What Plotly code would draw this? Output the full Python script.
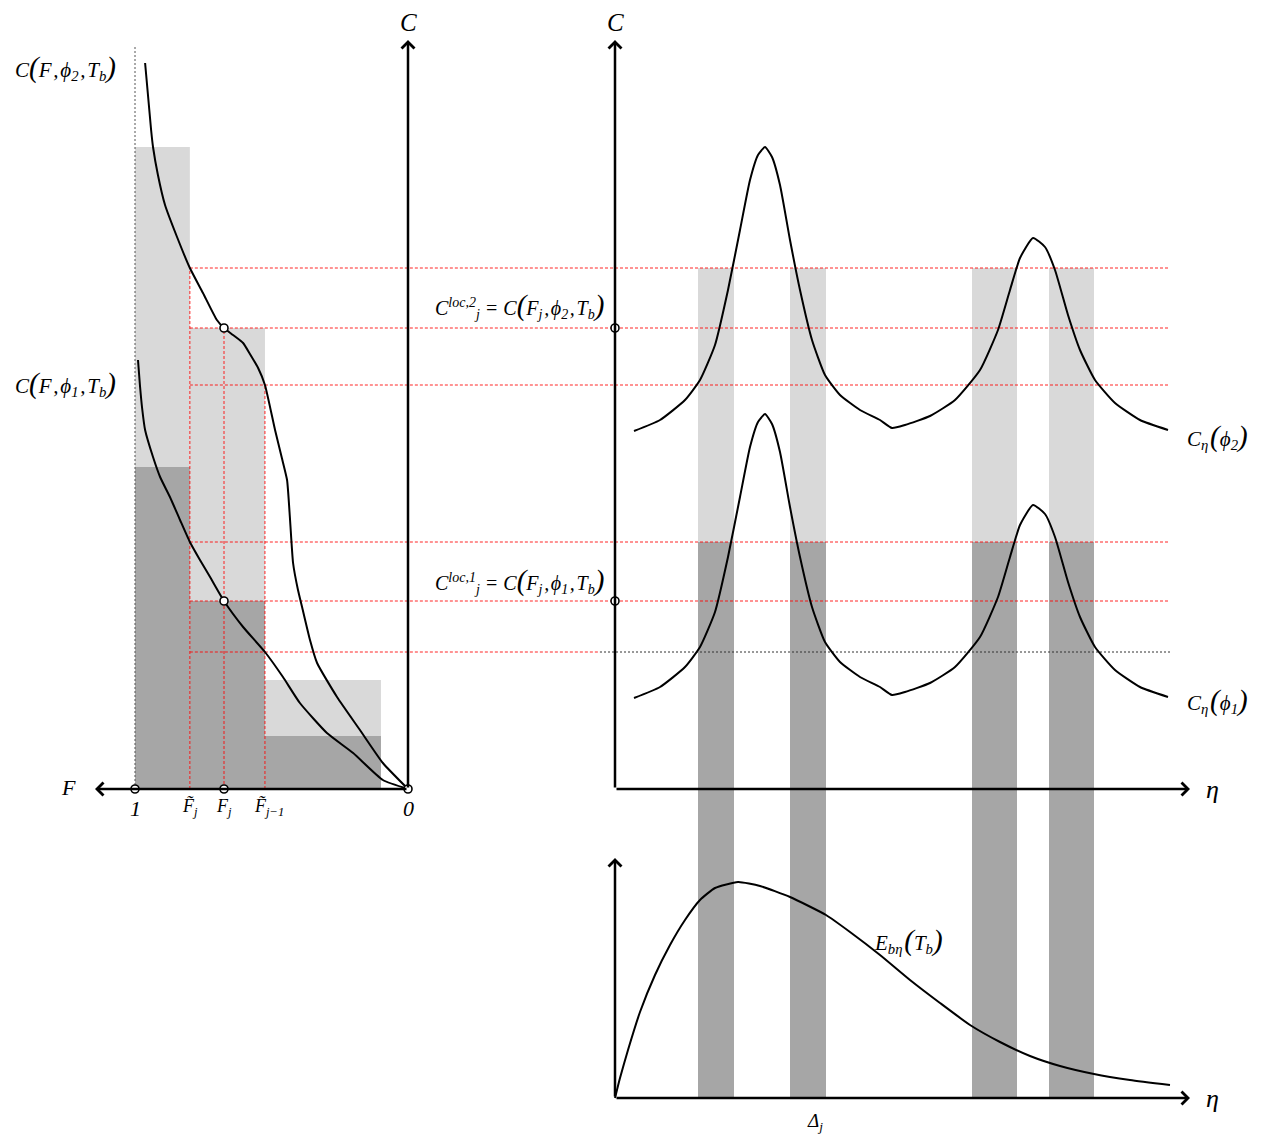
import plotly.graph_objects as go

# ------------------------------------------------------------------ data
# Left panel: cumulative fraction F (reversed axis) vs absorption coefficient C
F_edges = [1.0, 0.799, 0.524, 0.099]          # 1, F~_j, F~_{j-1}, end of last bin
F_j = 0.674
bar_light = [6.42, 4.61, 1.09]                # C(.,phi2,.) step heights
bar_dark = [3.22, 1.88, 0.53]                 # C(.,phi1,.) step heights

curve2_F = [0.963, 0.941, 0.934, 0.916, 0.890, 0.846, 0.799, 0.751, 0.700, 0.674,
            0.641, 0.604, 0.579, 0.549, 0.524, 0.487, 0.462, 0.443, 0.432, 0.421,
            0.403, 0.388, 0.359, 0.333, 0.260, 0.176, 0.092, 0.0]
curve2_C = [7.26, 6.59, 6.42, 6.14, 5.84, 5.52, 5.21, 4.96, 4.69, 4.61,
            4.54, 4.46, 4.35, 4.21, 4.04, 3.59, 3.31, 3.09, 2.69, 2.26,
            1.99, 1.82, 1.49, 1.26, 0.92, 0.59, 0.26, 0.0]
curve1_F = [0.989, 0.982, 0.974, 0.963, 0.934, 0.908, 0.872, 0.835, 0.799, 0.762,
            0.725, 0.674, 0.604, 0.524, 0.458, 0.396, 0.297, 0.201, 0.092, 0.0]
curve1_C = [4.29, 4.04, 3.81, 3.59, 3.32, 3.12, 2.92, 2.69, 2.47, 2.29,
            2.12, 1.88, 1.62, 1.37, 1.12, 0.86, 0.56, 0.36, 0.09, 0.0]

# reference levels
levels_red = [5.21, 4.61, 4.04, 2.47, 1.88]
level_black = 1.37
C_loc2 = 4.61
C_loc1 = 1.88
vlines_F = [0.799, 0.674, 0.524]
vlines_top = [5.21, 4.61, 4.04]

# Right top panel: spectral absorption coefficient C_eta
eta = [0.19, 0.45, 0.70, 0.85, 1.00, 1.13, 1.25, 1.35, 1.43, 1.50, 1.57, 1.65,
       1.75, 1.85, 1.97, 2.10, 2.25, 2.45, 2.65, 2.77, 2.90, 3.15, 3.40, 3.65,
       3.83, 3.95, 4.05, 4.18, 4.30, 4.40, 4.53, 4.65, 4.80, 5.00, 5.25, 5.53]
C_eta_phi2 = [3.58, 3.69, 3.89, 4.09, 4.44, 4.99, 5.59, 6.09, 6.34, 6.42, 6.32, 6.04,
              5.49, 4.99, 4.49, 4.14, 3.94, 3.79, 3.69, 3.61, 3.64, 3.73, 3.89, 4.19,
              4.59, 4.99, 5.31, 5.51, 5.42, 5.19, 4.74, 4.39, 4.09, 3.86, 3.69, 3.59]
C_eta_phi1 = [0.91, 1.02, 1.22, 1.42, 1.77, 2.32, 2.92, 3.42, 3.67, 3.75, 3.65, 3.37,
              2.82, 2.32, 1.82, 1.47, 1.27, 1.12, 1.02, 0.94, 0.97, 1.06, 1.22, 1.52,
              1.92, 2.32, 2.64, 2.84, 2.75, 2.52, 2.07, 1.72, 1.42, 1.19, 1.02, 0.92]
band_lo = [0.83, 1.75, 3.57, 4.34]
band_hi = [1.19, 2.11, 4.02, 4.79]
band_light_top = 5.21
band_dark_top = 2.47

# Right bottom panel: blackbody emissive power E_b_eta
eta_E = [0.0, 0.05, 0.13, 0.25, 0.40, 0.55, 0.70, 0.85, 1.00, 1.23, 1.45, 1.75,
         2.11, 2.35, 2.65, 2.95, 3.25, 3.55, 3.85, 4.15, 4.45, 4.79, 5.15, 5.55]
E_b = [0.0, 0.20, 0.48, 0.86, 1.23, 1.53, 1.78, 1.98, 2.10, 2.16, 2.12, 2.01,
       1.83, 1.66, 1.43, 1.18, 0.95, 0.73, 0.56, 0.42, 0.32, 0.24, 0.18, 0.13]

# axis extents (data units)
F_axis_end = 1.1465
C_axis_end = 7.49
eta_axis_end = 5.75
E_axis_end = 2.40
eta_line_end = 5.55
dotted_top = 7.44

# ------------------------------------------------------------------ axes
XR1 = [1.4945, -0.7033]      # left panel F range (reversed)
XR2 = [-0.15, 6.47]          # eta range
YR1 = [-3.51, 7.89]          # C range
YR3 = [-0.42, 10.98]         # E range
# C value of the bottom eta-axis (E = 0), via the two linear axis scales
frac_e0 = (0 - YR3[0]) / (YR3[1] - YR3[0])
C_at_E0 = YR1[0] + frac_e0 * (YR1[1] - YR1[0])

LIGHT = "#d9d9d9"
DARK = "#a6a6a6"
RED = "rgba(255,0,0,0.85)"
FONT = "Liberation Serif"

fig = go.Figure()

# left bars
centers = [(F_edges[i] + F_edges[i + 1]) / 2 for i in range(3)]
widths = [F_edges[i] - F_edges[i + 1] for i in range(3)]
fig.add_trace(go.Bar(x=centers, y=bar_light, width=widths, marker=dict(color=LIGHT, line_width=0),
                     xaxis="x", yaxis="y", hoverinfo="skip"))
fig.add_trace(go.Bar(x=centers, y=bar_dark, width=widths, marker=dict(color=DARK, line_width=0),
                     xaxis="x", yaxis="y", hoverinfo="skip"))

# right bands
bc = [(a + b) / 2 for a, b in zip(band_lo, band_hi)]
bw = [b - a for a, b in zip(band_lo, band_hi)]
fig.add_trace(go.Bar(x=bc, y=[band_light_top - band_dark_top] * 4, base=[band_dark_top] * 4, width=bw,
                     marker=dict(color=LIGHT, line_width=0), xaxis="x2", yaxis="y", hoverinfo="skip"))
fig.add_trace(go.Bar(x=bc, y=[band_dark_top - C_at_E0] * 4, base=[C_at_E0] * 4, width=bw,
                     marker=dict(color=DARK, line_width=0), xaxis="x2", yaxis="y", hoverinfo="skip"))

# dotted vertical line at F = 1
fig.add_trace(go.Scatter(x=[1, 1], y=[0, dotted_top], mode="lines",
                         line=dict(color="#555555", width=1, dash="2px,2px"),
                         xaxis="x", yaxis="y", hoverinfo="skip"))

# red horizontal reference lines (left part and right part)
for lv in levels_red:
    fig.add_trace(go.Scatter(x=[F_edges[1], XR1[1]], y=[lv, lv], mode="lines",
                             line=dict(color=RED, width=1, dash="3px,2px"),
                             xaxis="x", yaxis="y", hoverinfo="skip"))
    fig.add_trace(go.Scatter(x=[XR2[0], eta_line_end], y=[lv, lv], mode="lines",
                             line=dict(color=RED, width=1, dash="3px,2px"),
                             xaxis="x2", yaxis="y", hoverinfo="skip"))
fig.add_trace(go.Scatter(x=[F_edges[1], XR1[1]], y=[level_black, level_black], mode="lines",
                         line=dict(color=RED, width=1, dash="3px,2px"),
                         xaxis="x", yaxis="y", hoverinfo="skip"))
fig.add_trace(go.Scatter(x=[XR2[0], eta_line_end], y=[level_black, level_black], mode="lines",
                         line=dict(color="#333333", width=1, dash="2px,2px"),
                         xaxis="x2", yaxis="y", hoverinfo="skip"))
# red vertical lines
for fx, top in zip(vlines_F, vlines_top):
    fig.add_trace(go.Scatter(x=[fx, fx], y=[0, top], mode="lines",
                             line=dict(color=RED, width=1, dash="3px,2px"),
                             xaxis="x", yaxis="y", hoverinfo="skip"))

# curves
BL = dict(color="black", width=2, shape="spline", smoothing=0.5)
fig.add_trace(go.Scatter(x=curve2_F, y=curve2_C, mode="lines", line=BL, xaxis="x", yaxis="y",
                         hoverinfo="skip"))
fig.add_trace(go.Scatter(x=curve1_F, y=curve1_C, mode="lines", line=BL, xaxis="x", yaxis="y",
                         hoverinfo="skip"))
fig.add_trace(go.Scatter(x=eta, y=C_eta_phi2, mode="lines", line=BL, xaxis="x2", yaxis="y",
                         hoverinfo="skip"))
fig.add_trace(go.Scatter(x=eta, y=C_eta_phi1, mode="lines", line=BL, xaxis="x2", yaxis="y",
                         hoverinfo="skip"))
fig.add_trace(go.Scatter(x=eta_E, y=E_b, mode="lines", line=BL, xaxis="x2", yaxis="y3",
                         hoverinfo="skip"))

# ------------------------------------------------------------------ axes drawn as arrows
arrows = [
    ("x", "y", F_axis_end, 0, 0, 0),
    ("x", "y", 0, C_axis_end, 0, 0),
    ("x2", "y", 0, C_axis_end, 0, 0),
    ("x2", "y", eta_axis_end, 0, 0, 0),
    ("x2", "y3", 0, E_axis_end, 0, 0),
    ("x2", "y3", eta_axis_end, 0, 0, 0),
]
ann = []
for xr, yr, x, y, ax, ay in arrows:
    ann.append(dict(xref=xr, yref=yr, axref=xr, ayref=yr, x=x, y=y, ax=ax, ay=ay, text="",
                    showarrow=True, arrowhead=4, arrowsize=1, arrowwidth=2.5, arrowcolor="black",
                    standoff=0, startstandoff=0))

# circles
MK = dict(symbol="circle", size=8, color="white", line=dict(color="black", width=1.6))
fig.add_trace(go.Scatter(x=[1, F_j, 0, F_j, F_j], y=[0, 0, 0, C_loc2, C_loc1], mode="markers",
                         marker=MK, xaxis="x", yaxis="y", cliponaxis=False, hoverinfo="skip"))
fig.add_trace(go.Scatter(x=[0, 0], y=[C_loc2, C_loc1], mode="markers",
                         marker=MK, xaxis="x2", yaxis="y", cliponaxis=False, hoverinfo="skip"))


def P(s, size=29):
    return f'<span style="font-size:{size}px">{s}</span>'


def txt(xr, yr, x, y, text, size=20, xanchor="center", yanchor="middle", yshift=0, xshift=0):
    ann.append(dict(xref=xr, yref=yr, x=x, y=y, text=text, showarrow=False, xanchor=xanchor,
                    yanchor=yanchor, yshift=yshift, xshift=xshift,
                    font=dict(family=FONT, size=size, color="black")))


phi = "\u03d5"
sp = "\u200a"
txt("x", "y", 0, 7.67, "<i>C</i>", size=25)
txt("x2", "y", 0, 7.67, "<i>C</i>", size=25)
txt("x", "y", 1.245, 0.02, "<i>F</i>", size=22)
tick_F = [1.0, 0.799, 0.674, 0.524, 0.0]
tick_lab = ["<i>1</i>", "<i>F\u0303<sub>j</sub></i>", "<i>F<sub>j</sub></i>",
            "<i>F\u0303<sub>j\u22121</sub></i>", "<i>0</i>"]
tick_size = [22, 18, 18, 18, 22]
for fx, lab, sz in zip(tick_F, tick_lab, tick_size):
    txt("x", "y", fx, 0, lab, size=sz, yanchor="top", yshift=-5,
        xshift=(4 if "\u22121" in lab else 0))
txt("x2", "y", 5.97, 0, "<i>\u03b7</i>", size=26)
txt("x2", "y3", 5.97, 0, "<i>\u03b7</i>", size=26)

lab_c2 = f"<i>C{P('(')}F{sp},{sp}{phi}<sub>2</sub>{sp},{sp}T<sub>b</sub>{P(')')}</i>"
lab_c1 = f"<i>C{P('(')}F{sp},{sp}{phi}<sub>1</sub>{sp},{sp}T<sub>b</sub>{P(')')}</i>"
txt("x", "y", 1.062, 7.22, lab_c2, size=21, xanchor="right")
txt("x", "y", 1.062, 4.06, lab_c1, size=21, xanchor="right")

lab_l2 = (f"<i>C<sup>loc,2</sup><sub>j</sub> = C{P('(')}F<sub>j</sub>{sp},{sp}{phi}<sub>2</sub>"
          f"{sp},{sp}T<sub>b</sub>{P(')')}</i>")
lab_l1 = (f"<i>C<sup>loc,1</sup><sub>j</sub> = C{P('(')}F<sub>j</sub>{sp},{sp}{phi}<sub>1</sub>"
          f"{sp},{sp}T<sub>b</sub>{P(')')}</i>")
txt("x2", "y", -0.09, 4.84, lab_l2, size=20, xanchor="right")
txt("x2", "y", -0.09, 2.09, lab_l1, size=20, xanchor="right")

txt("x2", "y", 5.70, 3.53, f"<i>C<sub>\u03b7</sub>{sp}{P('(')}{phi}<sub>2</sub>{P(')')}</i>",
    size=21, xanchor="left")
txt("x2", "y", 5.70, 0.89, f"<i>C<sub>\u03b7</sub>{sp}{P('(')}{phi}<sub>1</sub>{P(')')}</i>",
    size=21, xanchor="left")
txt("x2", "y3", 2.57, 1.58, f"<i>E<sub>b\u03b7</sub>{sp}{P('(')}T<sub>b</sub>{P(')')}</i>",
    size=21, xanchor="left")
txt("x2", "y3", 2.0, -0.24, "<i>\u0394<sub>j</sub></i>", size=19)

AX = dict(visible=False, fixedrange=True)
fig.update_layout(
    width=1262, height=1140, autosize=False,
    margin=dict(l=0, r=0, t=0, b=0, pad=0),
    paper_bgcolor="white", plot_bgcolor="rgba(0,0,0,0)",
    showlegend=False, barmode="overlay",
    xaxis=dict(AX, domain=[0, 600 / 1262], range=XR1, anchor="y"),
    xaxis2=dict(AX, domain=[600 / 1262, 1], range=XR2, anchor="y"),
    yaxis=dict(AX, domain=[0, 1], range=YR1, anchor="x"),
    yaxis3=dict(AX, domain=[0, 1], range=YR3, anchor="x2"),
    annotations=ann,
)

fig.write_html("out.html", config={"displayModeBar": False},
               post_script="document.body.style.margin='0';document.body.style.overflow='hidden';")
